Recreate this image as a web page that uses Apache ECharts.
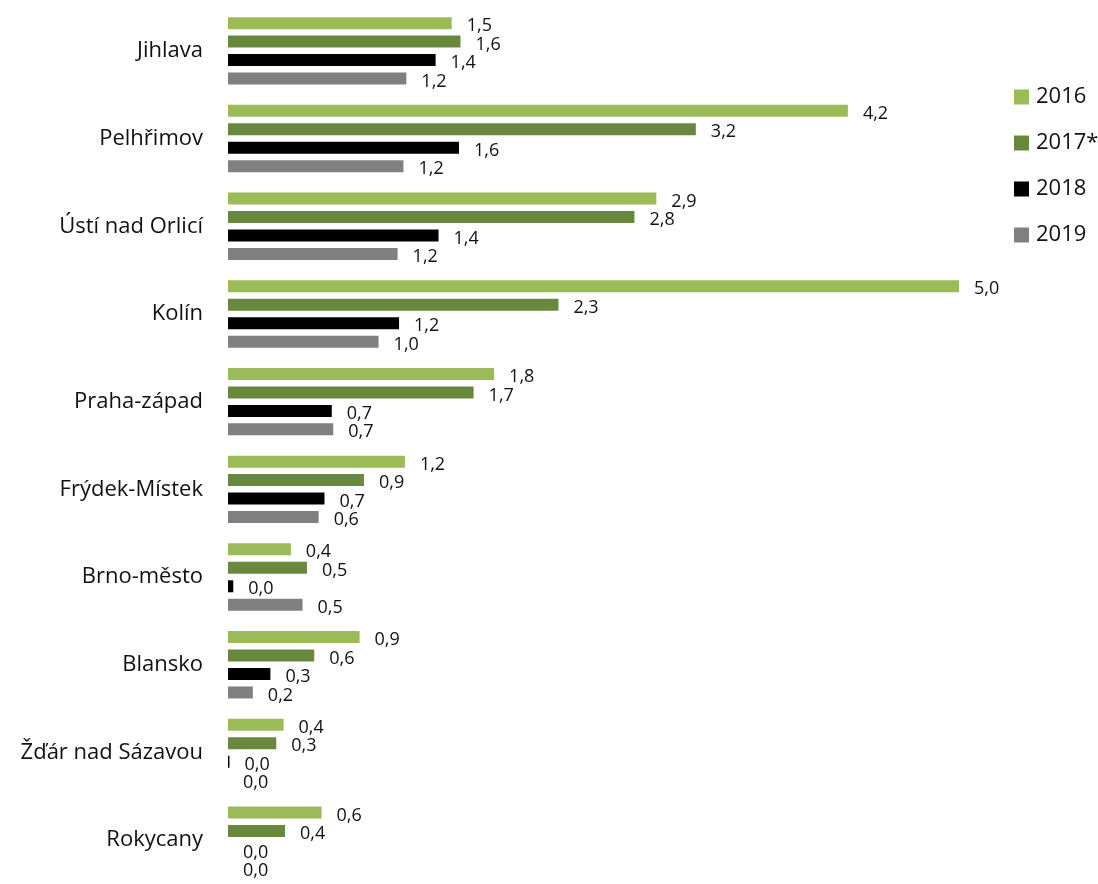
<!DOCTYPE html>
<html>
<head>
<meta charset="utf-8">
<script src="https://cdn.jsdelivr.net/npm/echarts@6/dist/echarts.min.js"></script>
<style>
  html, body { margin: 0; padding: 0; background: #fff; }
  #chart { width: 1098px; height: 884px; }
</style>
</head>
<body>
<div id="chart"></div>
<script>
// districts, top to bottom
const categories = [
  'Jihlava', 'Pelhřimov', 'Ústí nad Orlicí', 'Kolín', 'Praha-západ',
  'Frýdek-Místek', 'Brno-město', 'Blansko', 'Žďár nad Sázavou', 'Rokycany'
];
const seriesNames = ['2016', '2017*', '2018', '2019'];

// values
const values2016 = [1.53, 4.24, 2.93, 5.0, 1.82, 1.21, 0.43, 0.90, 0.38, 0.64];
const values2017 = [1.59, 3.20, 2.78, 2.26, 1.68, 0.93, 0.54, 0.59, 0.33, 0.39];
const values2018 = [1.42, 1.58, 1.44, 1.17, 0.71, 0.66, 0.036, 0.29, 0.01, 0];
const values2019 = [1.22, 1.20, 1.16, 1.03, 0.72, 0.62, 0.51, 0.17, 0, 0];

const colors = ['#9bbb59', '#67883d', '#000000', '#808080'];
const FONT = '"Open Sans", "Noto Sans", sans-serif';

const chart = echarts.init(document.getElementById('chart'));

const makeSeries = (name, data, color) => ({
  name: name,
  type: 'bar',
  data: data,
  barWidth: 12,
  barGap: '54%',
  itemStyle: { color: color },
  label: {
    show: true,
    position: 'right',
    distance: 15,
    offset: [0, 3],
    color: '#111',
    fontFamily: FONT,
    fontSize: 18,
    formatter: (p) => p.value.toFixed(1).replace('.', ',')
  }
});

const option = {
  animation: false,
  color: colors,
  grid: {
    left: 228,
    right: 139,
    top: 7,
    height: 880
  },
  legend: {
    orient: 'vertical',
    left: 1014,
    top: 86,
    padding: 0,
    itemWidth: 15,
    itemHeight: 15,
    itemGap: 24,
    icon: 'rect',
    textStyle: {
      fontFamily: FONT,
      fontSize: 22,
      color: '#111',
      lineHeight: 22,
      padding: [0, 0, 0, 2]
    },
    data: seriesNames
  },
  xAxis: {
    type: 'value',
    min: 0,
    max: 5,
    show: false
  },
  yAxis: {
    type: 'category',
    data: categories,
    inverse: true,
    axisLine: { show: false },
    axisTick: { show: false },
    axisLabel: {
      margin: 25,
      color: '#111',
      fontFamily: FONT,
      fontSize: 22
    }
  },
  series: [
    makeSeries(seriesNames[0], values2016, colors[0]),
    makeSeries(seriesNames[1], values2017, colors[1]),
    makeSeries(seriesNames[2], values2018, colors[2]),
    makeSeries(seriesNames[3], values2019, colors[3])
  ]
};

chart.setOption(option);
</script>
</body>
</html>
